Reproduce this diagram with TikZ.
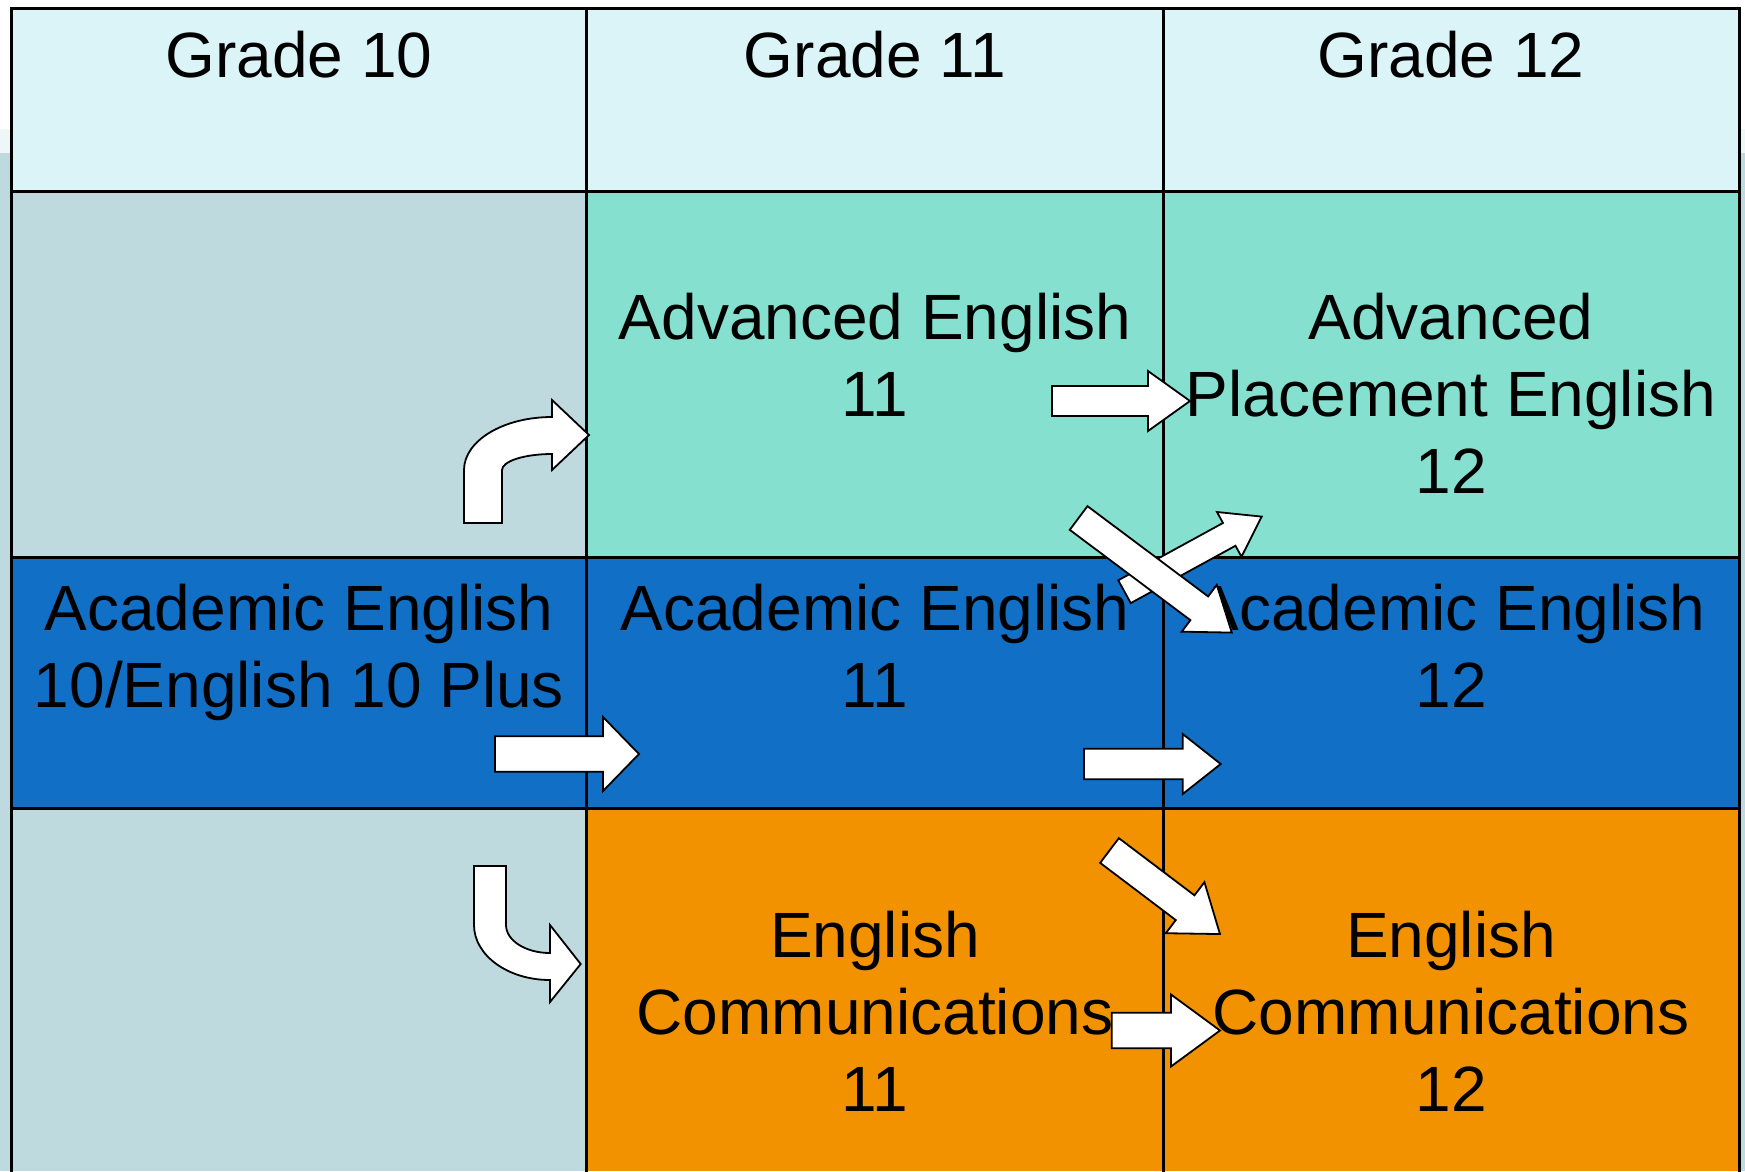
\documentclass[tikz,border=0pt]{standalone}
\usepackage{fontspec}
\setmainfont{Liberation Sans}
\definecolor{hdrc}{RGB}{219,244,247}
\definecolor{bgbc}{RGB}{190,218,223}
\definecolor{bandc}{RGB}{238,246,247}
\definecolor{tealc}{RGB}{134,224,208}
\definecolor{bluec}{RGB}{17,112,198}
\definecolor{orangec}{RGB}{243,146,0}
\newcommand{\barrowat}[7]{% x, y, angle, length, shaft half, head half, head length
  \draw[barrow, shift={(#1,#2)}, rotate=#3]
    (0,-#5) -- ({#4-#7},-#5) -- ({#4-#7},-#6) -- (#4,0) -- ({#4-#7},#6) -- ({#4-#7},#5) -- (0,#5) -- cycle;}
\begin{document}
\begin{tikzpicture}[x=1pt,y=-1pt,
  lbl/.style={align=center, font=\fontsize{64}{77}\selectfont, inner sep=0pt, text=black},
  barrow/.style={draw=black, fill=white, line width=1.8pt, line join=miter},
  gridline/.style={draw=black, line width=3pt}]
\useasboundingbox (0,0) rectangle (1745,1171);
\clip (0,0) rectangle (1745,1171);
% background
\fill[white] (0,0) rectangle (1745,1171);
\fill[bandc] (0,129) rectangle (1745,153);
\fill[bgbc] (0,153) rectangle (1745,1171);
% cells
\fill[hdrc] (11,8) rectangle (1739,191);
\fill[bgbc] (11,191) rectangle (586.5,557.5);
\fill[tealc] (586.5,191) rectangle (1739,557.5);
\fill[bluec] (11,557.5) rectangle (1739,808);
\fill[bgbc] (11,808) rectangle (586.5,1171);
\fill[orangec] (586.5,808) rectangle (1739,1171);
% grid
\draw[gridline] (11,1175) -- (11,8) -- (1739,8) -- (1739,1175);
\draw[gridline] (11,191) -- (1739,191);
\draw[gridline] (11,557.5) -- (1739,557.5);
\draw[gridline] (11,808) -- (1739,808);
\draw[gridline] (586.5,8) -- (586.5,1175);
\draw[gridline] (1163,8) -- (1163,1175);
% texts
\node[lbl] (g10) at (299,55) {Grade 10};
\node[lbl] (g11) at (875,55) {Grade 11};
\node[lbl] (g12) at (1451,55) {Grade 12};
\node[lbl] (ae11) at (875,354.5) {Advanced English\\11};
\node[lbl] (ap12) at (1451,393) {Advanced\\Placement English\\12};
\node[lbl] (ac10) at (299,652) {Academic English\\10/English 10 Plus};
\node[lbl] (ac11) at (875,646) {Academic English\\11};
\node[lbl] (ac12) at (1451,646) {Academic English\\12};
\node[lbl] (ec11) at (875,1011) {English\\Communications\\11};
\node[lbl] (ec12) at (1451,1011) {English\\Communications\\12};
% curved arrow up-right (Grade 10 -> Advanced English 11)
\draw[barrow] (464,523) -- (464,470)
  .. controls (464,440.7) and (503.4,417) .. (552,417)
  -- (552,400) -- (589,435) -- (552,470) -- (552,454)
  .. controls (524.4,454) and (502,461.2) .. (502,470)
  -- (502,523) -- cycle;
% curved arrow down-right (Grade 10 -> English Communications 11)
\draw[barrow] (474,866) -- (474,925)
  .. controls (474,955.4) and (508,980) .. (550,980)
  -- (550,1002) -- (580.7,964) -- (550,925) -- (550,953)
  .. controls (525.7,953) and (506,940.5) .. (506,925)
  -- (506,866) -- cycle;
% straight and diagonal arrows
\barrowat{1052}{401}{0}{138}{15}{30}{42}
\barrowat{1124.5}{591.7}{28.7}{156.4}{13}{25.5}{37}
\barrowat{1078.6}{518}{-36.8}{191.3}{14.8}{29.2}{40.6}
\barrowat{495}{754}{0}{144}{17.8}{37}{36}
\barrowat{1084}{764}{0}{136.7}{15.2}{30}{38}
\barrowat{1109.5}{850.5}{-37.1}{138.5}{15.5}{32}{43.7}
\barrowat{1111.7}{1030.5}{0}{108.3}{17.8}{36}{49}
\end{tikzpicture}
\end{document}
